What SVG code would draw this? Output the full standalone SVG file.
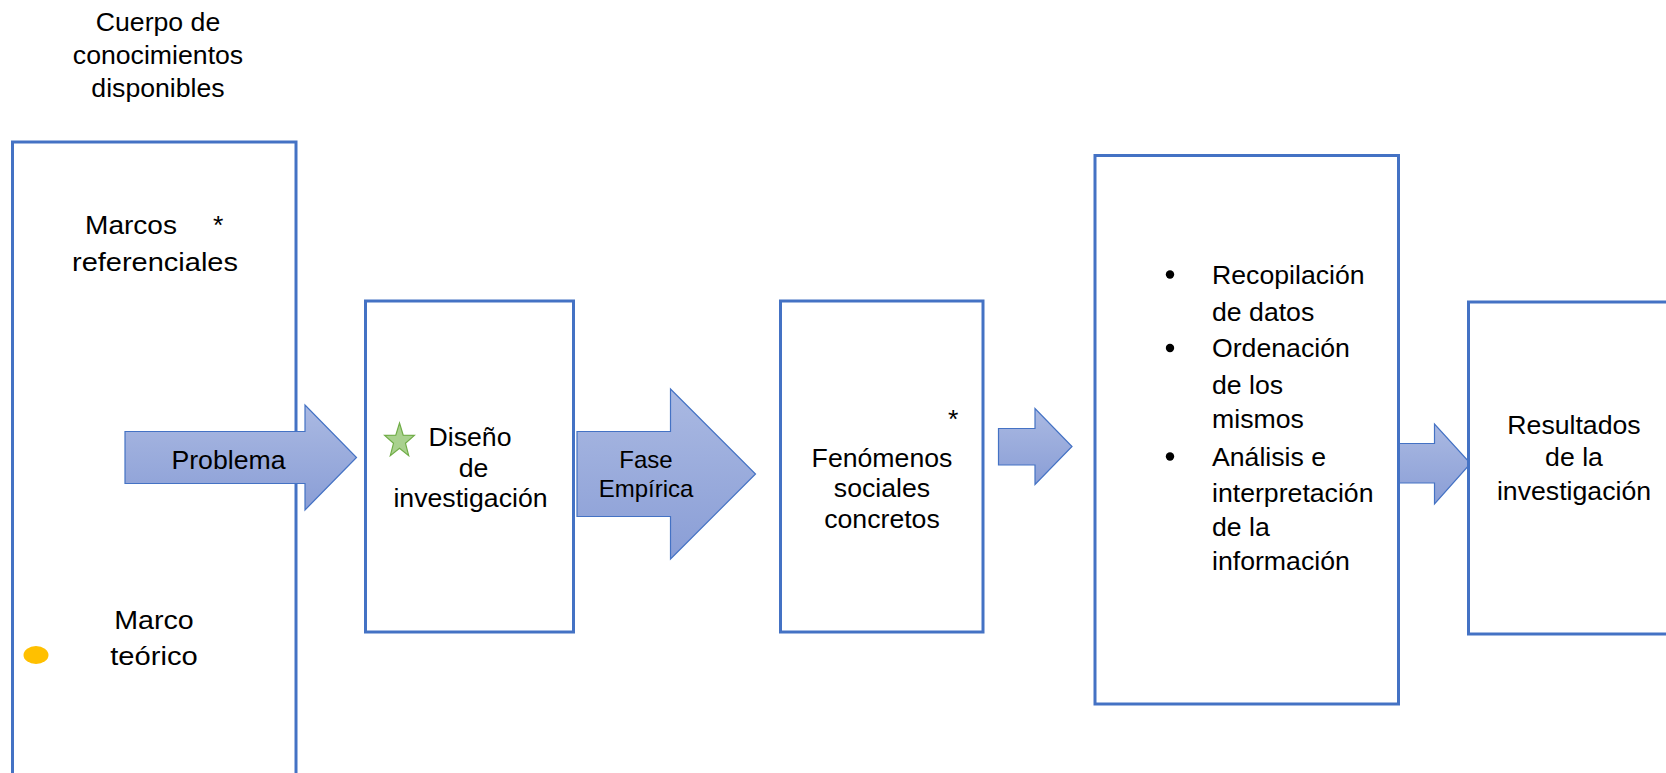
<svg xmlns="http://www.w3.org/2000/svg" width="1666" height="773" viewBox="0 0 1666 773">
<defs>
<linearGradient id="arrowFill" x1="0" y1="0" x2="0" y2="1">
<stop offset="0" stop-color="#AAB9E2"/>
<stop offset="1" stop-color="#8A9ED6"/>
</linearGradient>
<style>
.box{fill:#FFFFFF;stroke:#4472C4;stroke-width:3}
.arrow{fill:url(#arrowFill);stroke:#4472C4;stroke-width:1.2;stroke-linejoin:miter}
text{font-family:"Liberation Sans",Arial,sans-serif;font-size:26.67px;fill:#000000}
.c{text-anchor:middle}
.s{font-size:24px}
</style>
</defs>
<rect width="1666" height="773" fill="#FFFFFF"/>

<g id="titulo">
<text class="c" x="158" y="31">Cuerpo de</text>
<text class="c" x="158" y="64">conocimientos</text>
<text class="c" x="158" y="97">disponibles</text>
</g>

<g id="marcos">
<rect class="box" x="12.5" y="142" width="283.5" height="660"/>
<text x="85" y="233.5" textLength="92" lengthAdjust="spacingAndGlyphs">Marcos</text>
<text x="213" y="233.5">*</text>
<text class="c" x="155" y="270.5" textLength="166" lengthAdjust="spacingAndGlyphs">referenciales</text>
<text class="c" x="154" y="628.5" textLength="79.5" lengthAdjust="spacingAndGlyphs">Marco</text>
<text class="c" x="154" y="664.5" textLength="87.5" lengthAdjust="spacingAndGlyphs">teórico</text>
<ellipse cx="36" cy="655" rx="12.5" ry="9" fill="#FFC000"/>
</g>

<g id="conectores">
<g id="flecha-problema">
<polygon class="arrow" points="125,431.5 305,431.5 305,405 356.5,457.5 305,510 305,483.5 125,483.5"/>
<text class="c" x="228.5" y="469">Problema</text>
</g>
<g id="flecha-fase">
<polygon class="arrow" points="577,431.5 670.5,431.5 670.5,389 755.5,474 670.5,559 670.5,516.5 577,516.5"/>
<text class="c s" x="646" y="468">Fase</text>
<text class="c s" x="646" y="496.5">Empírica</text>
</g>
<polygon id="flecha-3" class="arrow" points="998.5,428.5 1035,428.5 1035,408.5 1072,446.5 1035,484.5 1035,465 998.5,465"/>
<polygon id="flecha-4" class="arrow" points="1398,443.5 1434.5,443.5 1434.5,424 1470.5,463.5 1434.5,504 1434.5,483 1398,483"/>
</g>

<g id="diseno">
<rect class="box" x="365.5" y="301" width="208" height="331"/>
<polygon points="399.5,423 403.2,435.1 414.4,435.4 405.5,443.3 408.7,455.6 399.5,448.3 390.3,455.6 393.5,443.3 384.6,435.4 395.8,435.1" fill="#A9D18E" stroke="#70AD47" stroke-width="1.2"/>
<text class="c" x="470" y="445.5">Diseño</text>
<text class="c" x="473.5" y="476.5">de</text>
<text class="c" x="470.5" y="506.5">investigación</text>
</g>

<g id="fenomenos">
<rect class="box" x="780.5" y="301" width="202.5" height="331"/>
<text x="948" y="428">*</text>
<text class="c" x="882" y="466.5">Fenómenos</text>
<text class="c" x="882" y="497">sociales</text>
<text class="c" x="882" y="527.5">concretos</text>
</g>

<g id="procesamiento">
<rect class="box" x="1095" y="155.5" width="303.5" height="548.5"/>
<circle cx="1170" cy="274.5" r="4.2" fill="#000000"/>
<circle cx="1170" cy="348" r="4.2" fill="#000000"/>
<circle cx="1170" cy="456.5" r="4.2" fill="#000000"/>
<text x="1212" y="283.5">Recopilación</text>
<text x="1212" y="320.5">de datos</text>
<text x="1212" y="357">Ordenación</text>
<text x="1212" y="393.5">de los</text>
<text x="1212" y="428">mismos</text>
<text x="1212" y="465.5">Análisis e</text>
<text x="1212" y="501.5">interpretación</text>
<text x="1212" y="536">de la</text>
<text x="1212" y="569.5">información</text>
</g>

<g id="resultados">
<rect class="box" x="1468.5" y="302" width="220" height="332"/>
<text class="c" x="1574" y="433.5">Resultados</text>
<text class="c" x="1574" y="466">de la</text>
<text class="c" x="1574" y="499.5">investigación</text>
</g>
</svg>
